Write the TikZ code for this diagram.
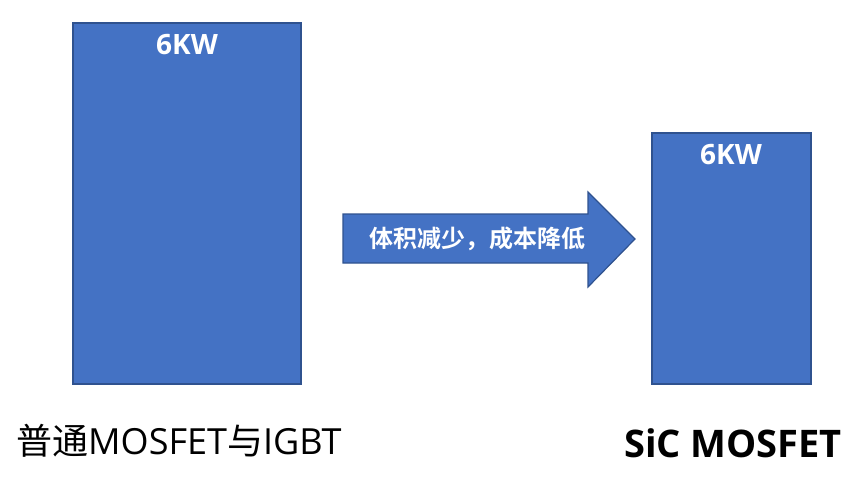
\documentclass[tikz,border=0pt]{standalone}
\usepackage{fontspec}
\setmainfont{Open Sans}
\newfontfamily\lat{Open Sans}
\newfontfamily\latb{Open Sans Bold}
\newfontfamily\cjk{Noto Sans CJK SC}
\newfontfamily\cjkb{Noto Sans CJK SC Bold}
\definecolor{boxblue}{HTML}{4472C4}
\definecolor{boxedge}{HTML}{2F528F}
\begin{document}
\begin{tikzpicture}[x=1pt,y=-1pt,
  blk/.style={fill=boxblue,draw=boxedge,line width=1.2pt},
  wlab/.style={text=white,font=\latb\fontsize{28}{28}\selectfont,inner sep=0pt},
  blab/.style={text=black,inner sep=0pt,anchor=west}]
\useasboundingbox (0,0) rectangle (865,500);
\draw[blk] (73,23) rectangle (301,384);
\draw[blk] (652,133) rectangle (811,384);
\draw[blk] (343,214) -- (588,214) -- (588,192) -- (635,239) -- (588,287) -- (588,263) -- (343,263) -- cycle;
\node[wlab] (l6) at (187,45) {6KW};
\node[wlab] (r6) at (731,155) {6KW};
\node[wlab,font=\cjkb\fontsize{24}{24}\selectfont] (arr) at (477,239) {体积减少，成本降低};
\node[blab,font=\fontsize{36}{36}\selectfont] (lt) at (16,441) {{\cjk 普通}MOSFET{\cjk 与}IGBT};
\node[blab,font=\latb\fontsize{38}{38}\selectfont] (rt) at (624,443) {SiC MOSFET};
\end{tikzpicture}
\end{document}
